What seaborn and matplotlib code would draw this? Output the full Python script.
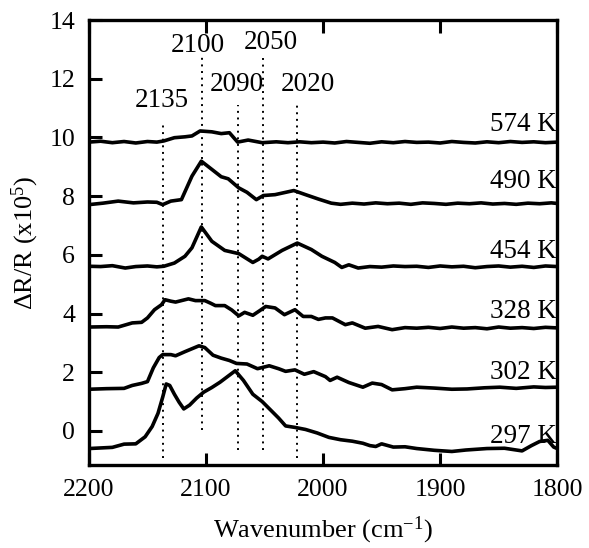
import numpy as np
import pandas as pd
import matplotlib
matplotlib.use("Agg")
import matplotlib.pyplot as plt
import seaborn as sns

# spectra (offsets already included)
wn_297 = [2200, 2190, 2180, 2170, 2160, 2152, 2146, 2141, 2137, 2134,
          2131, 2127, 2123, 2119, 2114, 2108, 2102, 2095, 2088, 2080,
          2075, 2068, 2060, 2052, 2045, 2038, 2032, 2024, 2015, 2005,
          1995, 1985, 1975, 1966, 1960, 1955, 1950, 1940, 1930, 1920,
          1905, 1890, 1878, 1860, 1845, 1830, 1822, 1815, 1808, 1803,
          1800]
dr_297 = [-0.60, -0.58, -0.56, -0.45, -0.44, -0.20, 0.15, 0.60, 1.15, 1.60,
          1.55, 1.25, 0.98, 0.75, 0.88, 1.12, 1.32, 1.48, 1.66, 1.90,
          2.05, 1.72, 1.25, 1.00, 0.72, 0.44, 0.17, 0.12, 0.05, -0.07,
          -0.22, -0.30, -0.35, -0.42, -0.50, -0.53, -0.44, -0.55, -0.54, -0.60,
          -0.66, -0.70, -0.65, -0.60, -0.59, -0.68, -0.50, -0.36, -0.32, -0.55,
          -0.60]

wn_302 = [2200, 2185, 2170, 2163, 2155, 2150, 2145, 2140, 2137, 2130,
          2126, 2118, 2112, 2106, 2101, 2094, 2087, 2080, 2074, 2065,
          2056, 2046, 2038, 2032, 2024, 2016, 2008, 1998, 1994, 1988,
          1978, 1966, 1958, 1950, 1941, 1930, 1920, 1905, 1890, 1877,
          1862, 1849, 1835, 1820, 1810, 1800]
dr_302 = [1.42, 1.44, 1.45, 1.55, 1.62, 1.68, 2.15, 2.50, 2.60, 2.60,
          2.56, 2.70, 2.80, 2.90, 2.84, 2.58, 2.48, 2.40, 2.30, 2.28,
          2.12, 2.22, 2.12, 2.03, 2.08, 1.93, 2.02, 1.85, 1.72, 1.83,
          1.65, 1.49, 1.63, 1.58, 1.40, 1.44, 1.49, 1.46, 1.42, 1.43,
          1.47, 1.49, 1.45, 1.50, 1.48, 1.49]

wn_328 = [2200, 2185, 2175, 2163, 2155, 2150, 2144, 2138, 2135, 2130,
          2126, 2120, 2115, 2109, 2101, 2096, 2092, 2084, 2078, 2072,
          2067, 2060, 2054, 2049, 2041, 2033, 2024, 2017, 2010, 2004,
          1998, 1992, 1981, 1975, 1964, 1953, 1941, 1930, 1920, 1910,
          1900, 1890, 1880, 1870, 1860, 1850, 1840, 1830, 1820, 1810,
          1800]
dr_328 = [3.54, 3.55, 3.54, 3.68, 3.70, 3.85, 4.13, 4.30, 4.47, 4.42,
          4.39, 4.45, 4.50, 4.44, 4.44, 4.35, 4.27, 4.27, 4.12, 3.92,
          4.04, 3.94, 4.10, 4.24, 4.19, 3.96, 4.13, 3.90, 3.90, 3.80,
          3.85, 3.85, 3.62, 3.68, 3.50, 3.56, 3.45, 3.52, 3.50, 3.53,
          3.49, 3.54, 3.50, 3.52, 3.48, 3.54, 3.50, 3.52, 3.49, 3.53,
          3.51]

wn_454 = [2200, 2190, 2180, 2169, 2160, 2150, 2142, 2136, 2127, 2118,
          2112, 2104, 2095, 2084, 2072, 2060, 2055, 2052, 2047, 2035,
          2022, 2010, 2001, 1990, 1984, 1978, 1970, 1960, 1950, 1940,
          1930, 1920, 1910, 1900, 1890, 1880, 1870, 1860, 1850, 1840,
          1830, 1820, 1810, 1800]
dr_454 = [5.61, 5.60, 5.63, 5.55, 5.60, 5.62, 5.59, 5.61, 5.72, 5.95,
          6.24, 6.95, 6.46, 6.15, 6.04, 5.74, 5.85, 5.95, 5.86, 6.15,
          6.40, 6.18, 5.95, 5.74, 5.57, 5.66, 5.55, 5.60, 5.58, 5.62,
          5.60, 5.61, 5.57, 5.62, 5.59, 5.61, 5.56, 5.60, 5.62, 5.58,
          5.61, 5.57, 5.62, 5.60]

wn_490 = [2200, 2188, 2175, 2162, 2150, 2142, 2137, 2130, 2121, 2112,
          2104, 2095, 2087, 2081, 2072, 2065, 2057, 2051, 2041, 2025,
          2015, 2004, 1993, 1985, 1975, 1965, 1955, 1945, 1935, 1925,
          1915, 1905, 1895, 1885, 1875, 1865, 1855, 1845, 1835, 1825,
          1815, 1805, 1800]
dr_490 = [7.71, 7.76, 7.83, 7.77, 7.80, 7.79, 7.71, 7.83, 7.88, 8.68,
          9.19, 8.91, 8.66, 8.59, 8.28, 8.13, 7.88, 8.02, 8.05, 8.19,
          8.05, 7.90, 7.76, 7.72, 7.76, 7.73, 7.77, 7.74, 7.76, 7.72,
          7.77, 7.75, 7.72, 7.76, 7.74, 7.77, 7.73, 7.75, 7.72, 7.76,
          7.74, 7.77, 7.75]

wn_574 = [2200, 2190, 2180, 2170, 2160, 2150, 2142, 2136, 2127, 2118,
          2112, 2105, 2095, 2087, 2080, 2073, 2064, 2052, 2040, 2030,
          2020, 2010, 2000, 1990, 1980, 1970, 1960, 1950, 1940, 1930,
          1920, 1910, 1900, 1890, 1880, 1870, 1860, 1850, 1840, 1830,
          1820, 1810, 1800]
dr_574 = [9.84, 9.87, 9.82, 9.86, 9.81, 9.86, 9.84, 9.88, 9.99, 10.02,
          10.05, 10.22, 10.19, 10.13, 10.16, 9.84, 9.91, 9.82, 9.85, 9.82,
          9.85, 9.82, 9.84, 9.81, 9.86, 9.83, 9.80, 9.85, 9.82, 9.86,
          9.83, 9.84, 9.81, 9.86, 9.83, 9.81, 9.85, 9.82, 9.86, 9.83,
          9.85, 9.82, 9.84]

temps = ["297 K", "302 K", "328 K", "454 K", "490 K", "574 K"]
temp_label_y = [-0.19, 1.98, 4.07, 6.12, 8.51, 10.44]

# dotted guide lines at the peak positions
peak_pos = [2137, 2103, 2073, 2051, 2022]
peak_labels = ["2135", "2100", "2090", "2050", "2020"]
peak_top = [10.55, 12.85, 11.1, 12.85, 11.2]
peak_bottom = [-0.92, 0.03, -0.65, -0.65, -0.92]
peak_label_x = [2138, 2107, 2074, 2045, 2013]
peak_label_y = [11.26, 13.14, 11.8, 13.24, 11.8]

spectra = [(wn_297, dr_297), (wn_302, dr_302), (wn_328, dr_328),
           (wn_454, dr_454), (wn_490, dr_490), (wn_574, dr_574)]
df = pd.concat([pd.DataFrame({"wn": w, "dr": d, "temp": t})
                for (w, d), t in zip(spectra, temps)], ignore_index=True)

sns.set_style("ticks")
plt.rcParams["font.family"] = ["Liberation Serif", "DejaVu Serif"]
plt.rcParams["mathtext.fontset"] = "custom"
plt.rcParams["mathtext.rm"] = "Liberation Serif"
plt.rcParams["mathtext.it"] = "Liberation Serif:italic"
plt.rcParams["text.color"] = "black"
plt.rcParams["axes.labelcolor"] = "black"
plt.rcParams["axes.edgecolor"] = "black"
plt.rcParams["xtick.color"] = "black"
plt.rcParams["ytick.color"] = "black"

fig = plt.figure(figsize=(5.89, 5.48), dpi=100)
ax = fig.add_axes([0.151, 0.1515, 0.795, 0.812])

for t in temps:
    sns.lineplot(data=df[df["temp"] == t], x="wn", y="dr", sort=False,
                 estimator=None, color="black", lw=2.6, ax=ax)

ax.vlines(peak_pos, peak_bottom, peak_top, colors="black",
          linestyles=(0, (1, 2.4)), lw=1.4)

for x, lab, y in zip(peak_label_x, peak_labels, peak_label_y):
    ax.text(x, y, lab, ha="center", va="center", fontsize=19.5)

for t, y in zip(temps, temp_label_y):
    ax.text(1800.5, y, t, ha="right", va="center", fontsize=19.5)

ax.set_xlim(2200, 1800)
ax.set_ylim(-1.16, 14)
ax.set_xticks([2200, 2100, 2000, 1900, 1800])
ax.set_yticks(range(0, 15, 2))
ax.tick_params(axis="both", direction="in", length=9, width=2.2,
               labelsize=18.5, pad=10)
ax.tick_params(axis="x", top=True)
for s in ax.spines.values():
    s.set_linewidth(2.4)

ax.set_xlabel("Wavenumber (cm$^{-1}$)", fontsize=19, labelpad=10)
ax.set_ylabel("ΔR/R (x10$^{5}$)", fontsize=19, labelpad=6)

fig.savefig("out.png", dpi=100)
